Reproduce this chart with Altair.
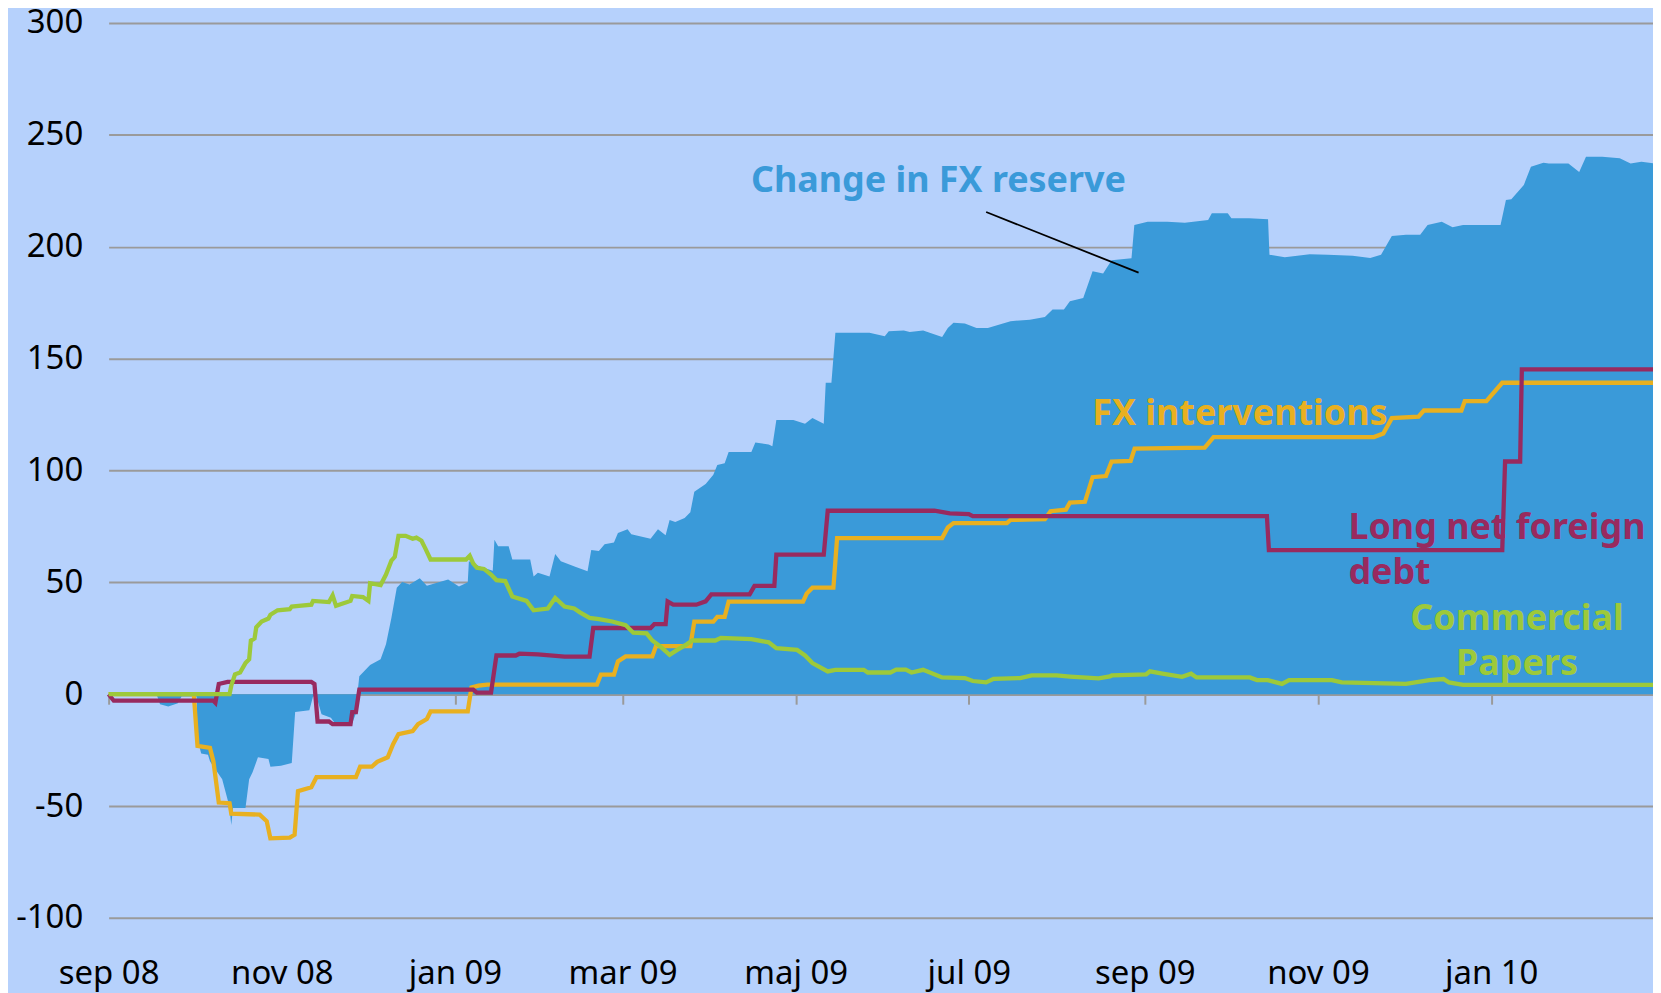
import altair as alt
import pandas as pd

# ---------------- data (days since 2008-09-01) ----------------
reserve_day = [0, 17, 18.1, 21, 24.4, 25.7, 31, 31.3, 32.6, 35, 35.7, 40, 42.5, 43.2, 43.8, 48.2,
               49.5, 50.7, 52.6, 56.3, 57.0, 60.7, 64.5, 65.7, 70.7, 72.0, 73.2, 75, 78.3, 80, 85.8,
               87.0, 87.7, 88.3, 92.1, 95.8, 97.7, 99.6, 101.5, 103.4, 106, 109.6, 112.1, 119.6,
               123.4, 126.5, 126.9, 131, 135.3, 135.9, 137.2, 140.9, 142.2, 148.5, 149.7, 151.2,
               155.3, 157.3, 159.3, 164.6, 168.7, 170.0, 172.7, 174.7, 178.0, 179.4, 182.8, 184.1,
               190.9, 193.5, 196.2, 197.6, 199.6, 202.9, 204.9, 206.3, 210.3, 213.0, 214.4, 217.0,
               218.4, 226.4, 227.8, 232.5, 233.8, 235.2, 241.2, 245.3, 247.9, 251.9, 252.6, 254.6,
               256.0, 268.0, 273.4, 274.8, 280.1, 282.2, 286.9, 293.6, 295.6, 297.6, 301.6, 305.7,
               309.7, 317.7, 324.5, 329.8, 332.5, 336.5, 338.6, 343.3, 346.6, 350.3, 353.3, 360.3,
               361.3, 366.0, 372.9, 379.1, 387.3, 388.6, 394.2, 395.5, 401.7, 408.4, 408.9, 414.3,
               423.1, 429.4, 438.2, 444.4, 448.2, 452.0, 457.0, 462.0, 464.6, 469.6, 473.4, 477.1,
               490.3, 492.2, 494.1, 498.5, 501.0, 505.4, 507.3, 514.2, 518.0, 520.4, 526.1, 532.3,
               536.1, 539.9, 544.7]
reserve_val = [0, -0.5, -4.5, -5.5, -4, -1, -1, -20, -26.5, -27, -30, -38, -50, -58.5, -50.9, -50.9,
               -38, -34.9, -28.2, -29, -32.4, -32, -30.7, -8, -7.2, -1, -1, -9, -10.5, -13.5, -13,
               -9, 1, 8, 13.1, 15.6, 22.3, 34.1, 47.6, 50.1, 49, 51.8, 48.5, 51.3,
               48.1, 50, 59.4, 57, 55.2, 69, 66.1, 66.1, 60.2, 60.2, 52.6, 54.3,
               52.6, 62.7, 59.4, 56.8, 55, 64.4, 64, 67.0, 67.8, 72.0, 73.7, 71.5,
               69.5, 73.7, 71, 77.9, 77, 78.7, 81.3, 90.5, 94, 98.1, 102.4, 103.2,
               108.2, 108.2, 112.5, 111.6, 110.8, 122.5, 122.5, 120.9, 123.4, 120.9, 139.2, 139.2,
               161.5, 161.5, 160, 162.2, 162.5, 161.9, 162.5, 159.6, 163.7, 166, 165.7, 163.7,
               163.7, 166.7, 167.4, 168.6, 171.9, 171.9, 175.6, 177.1, 189, 188, 193.9, 194.8,
               209.7, 211.2, 211.2, 210.7, 211.9, 214.9, 214.9, 212.7, 212.7, 212.3, 196.4, 195.3,
               196.6, 196.4, 196.0, 195, 196.4, 204.8, 205.3, 205.3, 209.7, 211.2, 208.7, 209.7,
               209.7, 220.9, 221.2, 227.6, 235.7, 237.5, 237.2, 237.2, 233.4, 240.2, 240.2, 239.5,
               237.2, 238, 237.2]

interv_day = [0, 30.0, 31.3, 35.7, 36.9, 38.8, 42.6, 43.2, 53.2, 55.7, 56.97, 63.8, 65.5, 66.7, 71.4,
              73.2, 87.1, 88.6, 92.7, 94.6, 98.3, 100.2, 102.1, 107.1, 109.0, 112.1, 113.4, 126.5,
              127.8, 130.3, 133.4, 172.0, 173.4, 178.0, 179.4, 182.1, 191.5, 192.8, 204.9, 206.3,
              213.0, 214.4, 217.0, 218.4, 244.6, 245.9, 247.9, 255.3, 256.6, 293.6, 295.6, 297.6,
              316.4, 317.7, 329.8, 331.8, 337.2, 338.6, 343.9, 346.6, 351.3, 353.3, 360.0, 361.4,
              386.1, 389.2, 445.7, 449, 452.0, 461.4, 463.3, 476.5, 477.7, 485.3, 490.9, 544.7]
interv_val = [0, 0, -23.1, -24, -29.9, -48.4, -48.7, -53.4, -53.8, -56.8, -64.4, -64.1, -62.8, -43.3, -41.6,
              -37.1, -37.1, -32.4, -32.4, -30.2, -28.2, -22.3, -17.8, -16.5, -13.4, -11.1, -7.7, -7.7,
              3.0, 3.8, 4.3, 4.3, 8.8, 8.8, 14.7, 16.9, 16.9, 21.5, 21.5, 32.4,
              32.4, 34.6, 34.6, 41.4, 41.4, 45, 47.6, 47.6, 69.8, 69.8, 74.5, 76.5,
              76.5, 77.9, 78.2, 81.8, 82.5, 85.6, 86, 97, 97.5, 104, 104.3, 109.8,
              110.2, 114.9, 114.9, 116.5, 123.4, 124, 126.8, 126.8, 131, 131, 139.2, 139.2]

debt_day = [0, 1.8, 36.9, 37.6, 38.8, 41.9, 71.4, 72.5, 73.6, 77.6, 78.9, 85.2, 85.8, 87.1, 88.3,
            128.4, 129.7, 134.7, 136.6, 143.4, 144.7, 151.2, 160.6, 169.4, 170.7, 190.9, 192.2,
            196.2, 196.9, 198.9, 207.0, 210.3, 212.3, 225.8, 227.5, 234.5, 235.2, 251.9, 253.3,
            290.9, 296.3, 303.0, 304.4, 408.0, 408.7, 490.9, 491.9, 497.2, 497.8, 544.7]
debt_val = [0, -2.9, -2.9, -3.8, 4.6, 5.5, 5.5, 4.6, -12.2, -12.2, -13.4, -13.4, -8, -8, 2.1,
            2.1, 0.7, 0.7, 17.3, 17.3, 18.1, 17.8, 16.8, 16.8, 29.6, 29.6, 31.3,
            31.3, 41.4, 40, 40, 41.5, 44.6, 44.6, 48.4, 48.4, 62.4, 62.4, 82.0,
            82.0, 80.8, 80.5, 79.6, 79.6, 64.4, 64.4, 104, 104, 145.2, 145.2]

paper_day = [0, 42.6, 43.2, 44.5, 46.3, 48.2, 49.5, 50.1, 51.4, 52.0, 53.9, 56.3, 57.0, 59.5, 63.8,
             64.5, 67.0, 71.4, 72.0, 77.6, 78.9, 80.1, 85.2, 85.8, 89.6, 91.5, 92.1, 95.8, 97.7,
             99.6, 100.8, 102.1, 104.6, 107.1, 108.4, 110.2, 111.5, 113.4, 125.9, 127.2, 128.4,
             129.7, 132.2, 134.7, 136.6, 139.7, 142.2, 147.2, 149.7, 154.7, 157.3, 160.6, 164.0,
             166.0, 169.4, 172.7, 177.4, 182.1, 184.8, 189.5, 191.5, 194.2, 197.6, 200.3, 203.6,
             205.6, 213.7, 215.7, 226.4, 232.5, 235.2, 242.5, 245.3, 247.9, 253.3, 256.0, 266.0,
             267.4, 275.4, 277.4, 280.8, 282.8, 286.9, 293.6, 301.6, 304.4, 309.1, 311.7, 321.1,
             325.2, 333.9, 338.6, 348.7, 352.7, 353.4, 365.5, 366.8, 371.2, 378.1, 381.3, 383.2,
             402.0, 404.5, 408.3, 413.3, 415.8, 430.9, 434.4, 457.0, 465.2, 470.2, 472.1, 477.1,
             544.7]
paper_val = [0, 0, 3.8, 8.9, 9.7, 13.9, 15.6, 24.0, 24.9, 29.9, 32.5, 33.8, 35.5, 37.5, 38.0,
             39.2, 39.5, 40.0, 41.7, 41.2, 44.2, 39.5, 41.7, 43.9, 43.4, 41.7, 49.6, 48.8, 53.5,
             59.7, 61.4, 70.8, 70.8, 69.5, 70.0, 68.6, 65.3, 60.2, 60.2, 61.9, 58.5,
             56.5, 56.0, 53.5, 51.0, 50.6, 43.7, 41.7, 37.5, 38.3, 43.0, 39.2, 38.3,
             36.6, 34.1, 33.6, 32.5, 30.9, 27.5, 27.2, 24.0, 21.5, 17.6, 19.8, 22.3,
             24.0, 24.0, 25.2, 24.6, 23.2, 20.6, 19.8, 17.3, 13.9, 10.2, 10.9, 10.9,
             9.7, 9.7, 11.0, 11.0, 9.7, 10.9, 7.5, 7.2, 5.9, 5.3, 6.9, 7.2,
             8.4, 8.4, 7.9, 7.1, 8.0, 8.4, 8.9, 10.2, 9.2, 7.8, 9.2, 7.5,
             7.5, 6.3, 6.3, 4.6, 6.3, 6.3, 5.3, 4.6, 6.3, 6.8, 5.3, 4.2,
             4.2]

tick_months = [(2008, 9), (2008, 11), (2009, 1), (2009, 3), (2009, 5), (2009, 7),
               (2009, 9), (2009, 11), (2010, 1)]
month_names = ["jan", "feb", "mar", "apr", "maj", "jun", "jul", "aug", "sep", "okt", "nov", "dec"]
y_ticks = [-100, -50, 0, 50, 100, 150, 200, 250, 300]

# annotations: (day, value, text)
label_reserve = (292.3, 224.3, "Change in FX reserve")
label_interv = (398.5, 120.4, "FX interventions")
label_debt = [(436.7, 69.2, "Long net foreign"), (436.7, 49.3, "debt")]
label_paper = [(496.1, 28.7, "Commercial"), (496.1, 8.5, "Papers")]
leader = (309.1, 215.5, 362.8, 188.4)

# colours
BG = "#b6d1fc"
C_RES = "#3a9ad9"
C_INT = "#e8b020"
C_DEBT = "#982a5f"
C_PAP = "#9dc93a"

T0 = pd.Timestamp("2008-09-01")


def iso(d):
    return (T0 + pd.Timedelta(days=d)).strftime("%Y-%m-%dT%H:%M:%SZ")


def frame(days, vals):
    return pd.DataFrame({"date": [iso(d) for d in days], "value": vals})


W = 1550
H = 898.3
x_scale = alt.Scale(type="utc",
                    domain=[alt.DateTime(year=2008, month=9, date=1, utc=True),
                            alt.DateTime(year=2010, month=2, date=27, utc=True)])
y_scale = alt.Scale(domain=[-100, 300], nice=False, zero=False)

names_js = "[" + ",".join("'%s'" % m for m in month_names) + "]"
x_axis = alt.Axis(
    values=[alt.DateTime(year=y, month=m, date=1, utc=True) for y, m in tick_months],
    labelExpr=names_js + "[utcmonth(datum.value)] + ' ' + utcFormat(datum.value, '%y')",
    title=None, grid=False, domain=False, ticks=True, tickSize=10, tickWidth=2,
    tickColor="#9a9a9a", offset=-H * 100 / 400, labelPadding=280,
    labelBaseline="alphabetic", labelFont="Noto Sans", labelFontSize=33,
    labelColor="#000000", labelFlush=False, labelOverlap=False,
)
y_axis = alt.Axis(values=y_ticks, title=None, grid=True, gridColor="#9a9a9a", gridWidth=2,
                  domain=False, ticks=False, labelPadding=26, labelFont="Noto Sans",
                  labelFontSize=33, labelColor="#000000",
                  labelExpr="datum.value < 0 ? '-' + abs(datum.value) : '' + datum.value")

X = alt.X("date:T", scale=x_scale, axis=x_axis)
Y = alt.Y("value:Q", scale=y_scale, axis=y_axis)

area = alt.Chart(frame(reserve_day, reserve_val)).mark_area(
    color=C_RES, opacity=1, interpolate="linear").encode(x=X, y=Y, y2=alt.datum(0))


def line(days, vals, color):
    return alt.Chart(frame(days, vals)).mark_line(
        color=color, strokeWidth=4.3, interpolate="linear").encode(x=X, y=Y)


l_int = line(interv_day, interv_val, C_INT)
l_debt = line(debt_day, debt_val, C_DEBT)
l_pap = line(paper_day, paper_val, C_PAP)

lead_df = pd.DataFrame({"date": [iso(leader[0])], "value": [leader[1]],
                        "date2": [iso(leader[2])], "value2": [leader[3]]})
lead = alt.Chart(lead_df).mark_rule(color="#000000", strokeWidth=1.8).encode(
    x=X, y=Y, x2="date2:T", y2="value2:Q")


def texts(rows, color, align):
    df = pd.DataFrame({"date": [iso(r[0]) for r in rows], "value": [r[1] for r in rows],
                       "text": [r[2] for r in rows]})
    return alt.Chart(df).mark_text(font="Noto Sans", fontWeight="bold", fontSize=36,
                                   color=color, align=align, baseline="alphabetic").encode(
        x=X, y=Y, text="text:N")


t_res = texts([label_reserve], C_RES, "center")
t_int = texts([label_interv], C_INT, "center")
t_debt = texts(label_debt, C_DEBT, "left")
t_pap = texts(label_paper, C_PAP, "center")

chart = alt.layer(area, l_int, l_debt, l_pap, lead, t_res, t_int, t_debt, t_pap).properties(
    width=W, height=H,
    autosize=alt.AutoSizeParams(type="none"),
    padding={"left": 101, "top": 13.2, "right": 0, "bottom": 73.5},
).configure(background=BG).configure_view(stroke=None)

chart.save("out.html", embed_options={"renderer": "svg", "actions": False})
